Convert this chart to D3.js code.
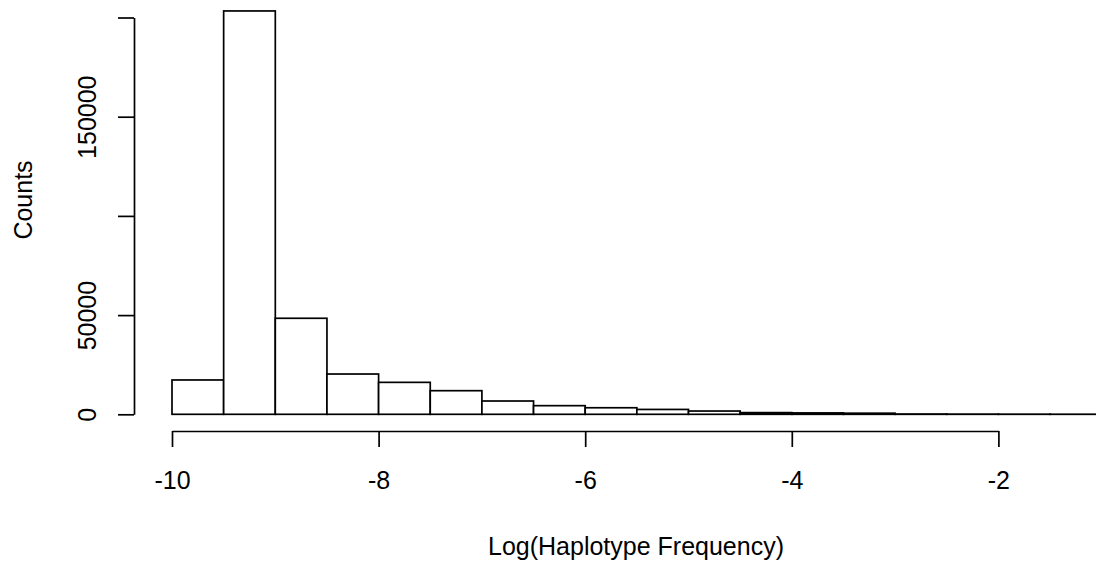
<!DOCTYPE html>
<html>
<head>
<meta charset="utf-8">
<script src="https://cdn.jsdelivr.net/npm/d3@7"></script>
<style>
html,body{margin:0;padding:0;background:#fff;}
svg{display:block;}
text{font-family:"Liberation Sans",Arial,sans-serif;fill:#000;}
</style>
</head>
<body>
<svg id="chart" width="1096" height="562"></svg>
<script>
// Histogram bins (left edges) and counts
const binStarts = [-10,-9.5,-9,-8.5,-8,-7.5,-7,-6.5,-6,-5.5,-5,-4.5,-4,-3.5,-3,-2.5,-2,-1.5];
const binWidth = 0.5;
const counts = [17300,203300,48400,20300,16100,11900,6700,4350,3300,2450,1650,850,700,550,150,100,60,30];
const xTicks = [-10,-8,-6,-4,-2];
const yTicks = [0,50000,100000,150000,200000];
const yTickLabels = ["0","50000","","150000",""];
const xLabel = "Log(Haplotype Frequency)";
const yLabel = "Counts";

const svg = d3.select("#chart");
const x = d3.scaleLinear().domain([-10,-2]).range([172,998.4]);
const y = d3.scaleLinear().domain([0,200000]).range([414.3,17.5]);

const sw = 1.7;
const fs = 25;

// bars
svg.append("g").selectAll("rect")
  .data(binStarts.map((s,i)=>({x0:s,x1:s+binWidth,c:counts[i]})))
  .enter().append("rect")
  .attr("x",d=>x(d.x0))
  .attr("width",d=>x(d.x1)-x(d.x0))
  .attr("y",d=>y(d.c))
  .attr("height",d=>y(0)-y(d.c))
  .attr("fill","#fff")
  .attr("stroke","#000")
  .attr("stroke-width",sw);

// x axis
const xAxis = d3.axisBottom(x).tickValues(xTicks).tickSize(16).tickSizeOuter(0).tickPadding(24)
  .tickFormat(d=>d3.format("d")(d).replace("−","-"));
const gx = svg.append("g").attr("transform","translate(0,431)").call(xAxis);
gx.select(".domain").attr("stroke","#000").attr("stroke-width",sw);
gx.selectAll(".tick line").attr("stroke","#000").attr("stroke-width",sw);
gx.selectAll(".tick text").style("font-size",fs+"px").attr("fill","#000")
  .attr("font-family","Liberation Sans, Arial, sans-serif");

// y axis
const yAxis = d3.axisLeft(y).tickValues(yTicks).tickSize(16).tickSizeOuter(0);
const gy = svg.append("g").attr("transform","translate(134,0)").call(yAxis);
gy.select(".domain").attr("stroke","#000").attr("stroke-width",sw);
gy.selectAll(".tick line").attr("stroke","#000").attr("stroke-width",sw);
gy.selectAll(".tick text").remove();
gy.selectAll(".tick").append("text")
  .attr("transform","translate(-38,0) rotate(-90)")
  .attr("text-anchor","middle")
  .style("font-size",fs+"px")
  .attr("fill","#000")
  .attr("font-family","Liberation Sans, Arial, sans-serif")
  .text((d,i)=>yTickLabels[i]);

// axis titles
svg.append("text").attr("x",636).attr("y",555).attr("text-anchor","middle")
  .style("font-size",fs+"px").text(xLabel);
svg.append("text").attr("transform","translate(32,200) rotate(-90)").attr("text-anchor","middle")
  .style("font-size",fs+"px").text(yLabel);
</script>
</body>
</html>
